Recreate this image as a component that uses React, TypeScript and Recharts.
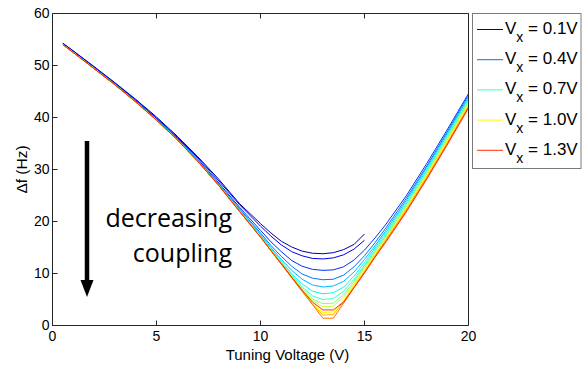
import { LineChart, Line, XAxis, YAxis } from "recharts";

// tuning voltage samples (V)
const voltage = [0.5, 1, 2, 3, 4, 5, 6, 7, 8, 9, 10, 10.5, 11, 11.5, 12, 12.5, 13, 13.5, 14, 14.5, 15, 15.5, 16, 17, 18, 19, 20];

const couplings = ["0.1", "0.2", "0.3", "0.4", "0.5", "0.6", "0.7", "0.8", "0.9", "1.0", "1.1", "1.2", "1.3"];

// delta f (Hz) for each coupling voltage
const vx01 = [54.3, 52.8, 49.8, 46.7, 43.5, 40.1, 36.4, 32.4, 28.1, 23.4, 19.6, 17.8, 16.2, 15.1, 14.3, 13.9, 13.8, 14.0, 14.6, 15.6, 17.6, null, null, null, null, null, null];
const vx02 = [54.2, 52.8, 49.7, 46.6, 43.4, 39.9, 36.2, 32.2, 27.8, 23.2, 19.1, 17.2, 15.5, 14.2, 13.4, 12.9, 12.8, 13.0, 13.6, 14.7, 16.4, null, null, null, null, null, null];
const vx03 = [54.1, 52.6, 49.6, 46.5, 43.2, 39.8, 36.0, 31.9, 27.4, 22.7, 18.3, 16.1, 14.2, 12.5, 11.4, 10.8, 10.6, 10.7, 11.3, 12.6, 14.5, 16.8, 19.3, 24.9, 31.2, 37.8, 44.6];
const vx04 = [54.1, 52.6, 49.5, 46.4, 43.1, 39.6, 35.9, 31.7, 27.2, 22.4, 17.8, 15.4, 13.3, 11.4, 9.9, 9.1, 8.8, 8.9, 9.7, 11.3, 13.4, 15.9, 18.6, 24.4, 30.7, 37.4, 44.3];
const vx05 = [54.0, 52.5, 49.5, 46.4, 43.1, 39.6, 35.8, 31.6, 27.1, 22.2, 17.5, 15.0, 12.7, 10.6, 8.9, 7.8, 7.4, 7.6, 8.5, 10.3, 12.7, 15.3, 18.1, 24.0, 30.4, 37.1, 43.9];
const vx06 = [54.0, 52.5, 49.4, 46.3, 43.0, 39.6, 35.8, 31.6, 27.0, 22.1, 17.3, 14.8, 12.3, 10.0, 8.0, 6.6, 6.1, 6.3, 7.4, 9.5, 12.1, 14.9, 17.7, 23.6, 30.0, 36.8, 43.6];
const vx07 = [54.0, 52.5, 49.4, 46.3, 43.0, 39.5, 35.7, 31.5, 27.0, 22.0, 17.1, 14.6, 12.1, 9.7, 7.4, 5.7, 5.0, 5.2, 6.6, 8.9, 11.6, 14.5, 17.3, 23.3, 29.7, 36.5, 43.3];
const vx08 = [54.0, 52.5, 49.4, 46.3, 43.0, 39.5, 35.7, 31.5, 26.9, 22.0, 17.1, 14.5, 12.0, 9.5, 7.1, 5.1, 4.2, 4.3, 5.9, 8.5, 11.3, 14.2, 17.0, 23.0, 29.4, 36.2, 43.1];
const vx09 = [54.0, 52.5, 49.4, 46.3, 43.0, 39.5, 35.7, 31.5, 26.9, 21.9, 17.1, 14.5, 11.9, 9.4, 6.9, 4.8, 3.6, 3.7, 5.5, 8.1, 11.0, 13.9, 16.8, 22.7, 29.2, 35.9, 42.8];
const vx10 = [54.0, 52.5, 49.4, 46.3, 43.0, 39.5, 35.7, 31.5, 26.9, 21.9, 17.0, 14.4, 11.8, 9.3, 6.7, 4.2, 2.5, 2.6, 4.9, 7.8, 10.6, 13.6, 16.5, 22.4, 28.9, 35.6, 42.5];
const vx11 = [54.0, 52.5, 49.4, 46.3, 43.0, 39.5, 35.7, 31.5, 26.9, 21.9, 17.0, 14.4, 11.8, 9.2, 6.6, 4.1, 2.0, 2.1, 4.6, 7.5, 10.4, 13.4, 16.3, 22.2, 28.6, 35.3, 42.2];
const vx12 = [54.0, 52.5, 49.4, 46.3, 43.0, 39.5, 35.7, 31.5, 26.9, 21.9, 17.0, 14.4, 11.8, 9.2, 6.6, 4.0, 1.4, 1.4, 4.3, 7.3, 10.2, 13.2, 16.1, 22.0, 28.4, 35.1, 42.0];
const vx13 = [54.0, 52.5, 49.4, 46.3, 43.0, 39.5, 35.7, 31.5, 26.9, 21.9, 17.0, 14.4, 11.9, 9.3, 6.8, 4.5, 3.0, 3.0, 4.5, 7.3, 10.1, 13.1, 15.9, 21.8, 28.2, 34.9, 41.8];

const series = [vx01, vx02, vx03, vx04, vx05, vx06, vx07, vx08, vx09, vx10, vx11, vx12, vx13];
const legendIdx = [0, 3, 6, 9, 12];

const xTicks = [0, 5, 10, 15, 20];
const yTicks = [0, 10, 20, 30, 40, 50, 60];

// jet-like colormap
const colors = [
  "#0000a8", "#0000ec", "#0030ff", "#0073ff", "#00b7ff", "#00faff", "#3effc1",
  "#82ff7d", "#c5ff3a", "#fff600", "#ffb300", "#ff6f00", "#ff2c00",
];

const data = voltage.map((v, i) => {
  const row: Record<string, number | null> = { v };
  series.forEach((s, k) => {
    row["s" + k] = s[i];
  });
  return row;
});

const axisColor = "#262626";
const font = "Liberation Sans, Arial, sans-serif";
const tickFont = { fontSize: 14, fill: "#000", fontFamily: font };
const noTick = () => <g />;

export default function App() {
  return (
    <div style={{ position: "absolute", left: 0, top: 0, width: 582, height: 366, background: "#fff" }}>
      <LineChart
        width={582}
        height={366}
        data={data}
        margin={{ top: 12.5, right: 112.5, bottom: 0, left: 0 }}
      >
        <XAxis
          dataKey="v"
          type="number"
          domain={[0, 20]}
          ticks={xTicks}
          height={40.5}
          stroke={axisColor}
          tickSize={-5}
          tickMargin={11}
          tick={tickFont}
          label={{
            value: "Tuning Voltage (V)",
            position: "insideBottom",
            offset: 6,
            dx: 27,
            style: { fontSize: 15, fill: "#000", fontFamily: font },
          }}
        />
        <XAxis
          xAxisId="top"
          orientation="top"
          dataKey="v"
          type="number"
          domain={[0, 20]}
          ticks={xTicks}
          height={1}
          stroke={axisColor}
          tickSize={-5}
          tick={noTick}
        />
        <YAxis
          type="number"
          domain={[0, 60]}
          ticks={yTicks}
          width={52.5}
          stroke={axisColor}
          tickSize={-5}
          tickMargin={8}
          tick={tickFont}
          label={{
            value: "Δf (Hz)",
            angle: -90,
            position: "insideLeft",
            offset: 21,
            style: { textAnchor: "middle", fontSize: 15.5, fill: "#000", fontFamily: font },
          }}
        />
        <YAxis
          yAxisId="right"
          orientation="right"
          type="number"
          domain={[0, 60]}
          ticks={yTicks}
          width={1}
          stroke={axisColor}
          tickSize={-5}
          tick={noTick}
        />
        {series.map((_, k) => (
          <Line
            key={k}
            dataKey={"s" + k}
            name={"Vx = " + couplings[k] + "V"}
            stroke={colors[k]}
            strokeWidth={1}
            dot={false}
            type="linear"
            isAnimationActive={false}
          />
        ))}
      </LineChart>

      {/* annotation */}
      <svg width={582} height={366} style={{ position: "absolute", left: 0, top: 0, pointerEvents: "none" }}>
        <line x1={87} y1={141} x2={87} y2={283} stroke="#000" strokeWidth={4.5} />
        <polygon points="80.5,280 93.5,280 87,297" fill="#000" />
        <text x={232} y={227} textAnchor="end" fontFamily="Open Sans" fontSize={25} fill="#000">
          decreasing
        </text>
        <text x={232} y={262} textAnchor="end" fontFamily="Open Sans" fontSize={25} fill="#000">
          coupling
        </text>
      </svg>

      {/* legend */}
      <svg width={110} height={156} style={{ position: "absolute", left: 472, top: 12.5 }}>
        <rect x={0.5} y={0.5} width={108.5} height={155} fill="#fff" stroke="#7a7a7a" strokeWidth={1} />
        {legendIdx.map((k, j) => {
          const cy = 16.5 + j * 30.2;
          return (
            <g key={k}>
              <line x1={5} x2={31} y1={cy} y2={cy} stroke={colors[k]} strokeWidth={1} />
              <text x={33} y={cy + 4.5} fontFamily={font} fontSize={17} fill="#000">
                V
                <tspan fontSize={14} dy={8}>x</tspan>
                <tspan dy={-8}>{" = " + couplings[k] + "V"}</tspan>
              </text>
            </g>
          );
        })}
      </svg>
    </div>
  );
}
